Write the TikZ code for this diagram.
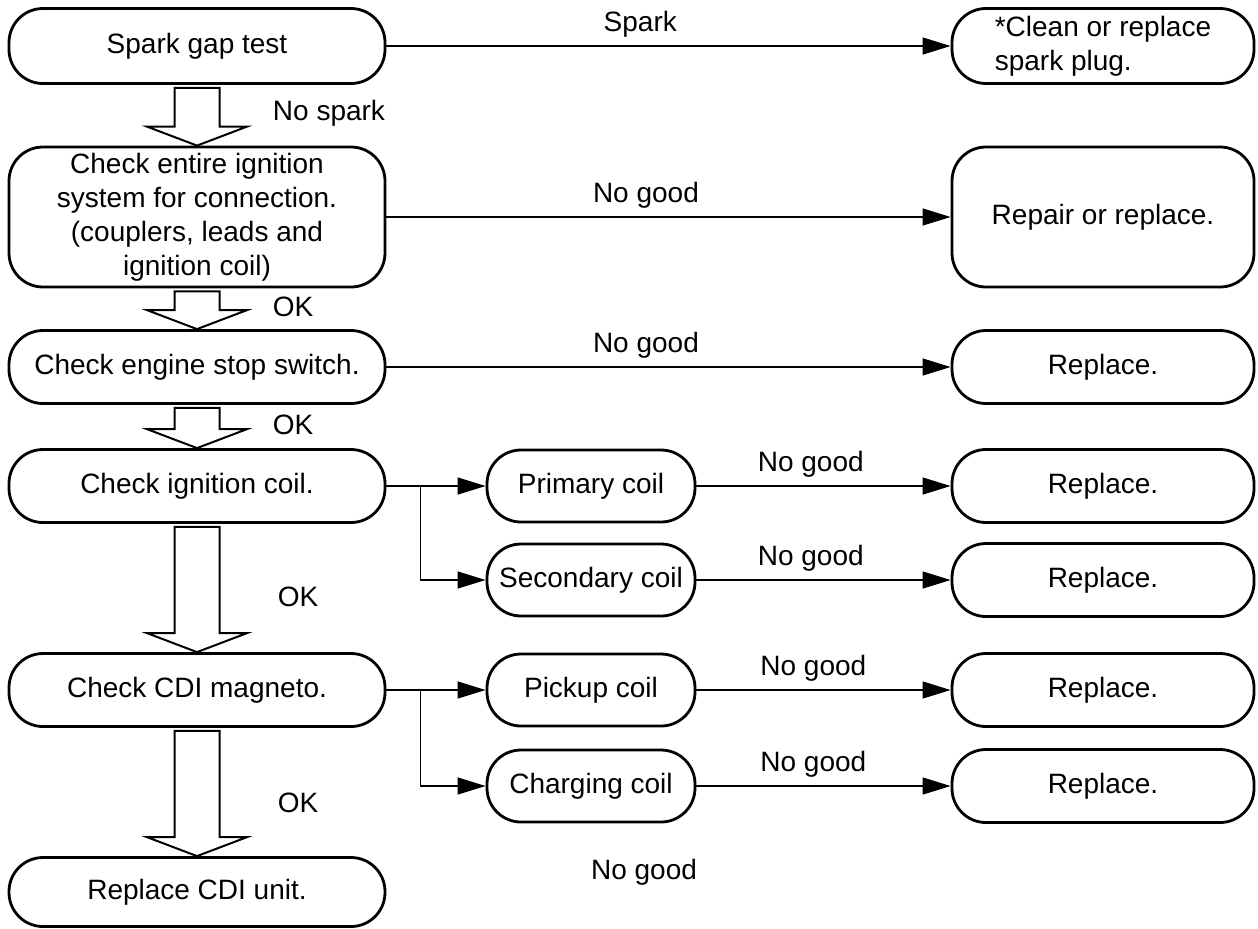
\documentclass[tikz,border=0pt]{standalone}
\usepackage{fontspec}
\setmainfont{Liberation Sans}
\usetikzlibrary{positioning, arrows.meta, calc}

\begin{document}
\begin{tikzpicture}[
    x=0.5pt, y=0.5pt,
    box/.style={
      draw, line width=1.4pt, rounded corners=17pt, align=center,
      font=\fontsize{14}{17}\selectfont, inner sep=2pt
    },
    mainbox/.style={box, minimum width=188pt, minimum height=36.5pt},
    coilbox/.style={box, minimum width=104pt, minimum height=36pt},
    fixbox/.style={box, minimum width=151pt, minimum height=36.5pt},
    arrow/.style={-{Triangle[length=14pt, width=8.5pt]}, line width=0.6pt},
    hollow/.style={draw, line width=1pt, fill=white, line join=miter},
    lbl/.style={font=\fontsize{14}{17}\selectfont, inner sep=2pt}
]

\useasboundingbox[fill=white] (0,0) rectangle (1258,-928);

% Main column
\node[mainbox, minimum height=37.5pt] (b1) at (197,-46) {Spark gap test};
\node[mainbox, minimum height=70pt] (b2) at (197,-217) {Check entire ignition\\system for connection.\\(couplers, leads and\\ignition coil)};
\node[mainbox] (b3) at (197,-367) {Check engine stop switch.};
\node[mainbox] (b4) at (197,-486) {Check ignition coil.};
\node[mainbox] (b5) at (197,-690) {Check CDI magneto.};
\node[mainbox, minimum height=34.5pt] (b6) at (197,-892) {Replace CDI unit.};

% Coil checks
\node[coilbox] (m1) at (591,-486) {Primary coil};
\node[coilbox] (m2) at (591,-580) {Secondary coil};
\node[coilbox] (m3) at (591,-690) {Pickup coil};
\node[coilbox] (m4) at (591,-786) {Charging coil};

% Remedies
\node[fixbox, align=left, minimum height=37.5pt] (r1) at (1103,-46) {*Clean or replace\\spark plug.};
\node[fixbox, minimum height=70pt] (r2) at (1103,-217) {Repair or replace.};
\node[fixbox] (r3) at (1103,-367) {Replace.};
\node[fixbox] (r4) at (1103,-486) {Replace.};
\node[fixbox] (r5) at (1103,-580) {Replace.};
\node[fixbox] (r6) at (1103,-690) {Replace.};
\node[fixbox] (r7) at (1103,-786) {Replace.};

% Hollow arrows down the main column
\foreach \a/\b in {b1/b2, b2/b3, b3/b4, b4/b5, b5/b6}
  \draw[hollow] ($(\a.south)+(-22.5,-3)$) -- ($(\b.north)+(-22.5,19)$)
    -- ++(-27.5,0) -- (\b.north) -- ++(50,19) -- ++(-27.5,0)
    -- ($(\a.south)+(22.5,-3)$) -- cycle;

\node[lbl] (nospark) at (329,-113) {No spark};
\node[lbl] (ok1) at (293,-307) {OK};
\node[lbl] (ok2) at (293,-425) {OK};
\node[lbl] (ok3) at (298,-597) {OK};
\node[lbl] (ok4) at (298,-803) {OK};

% Arrows
\draw[arrow] (b1) -- node[lbl, above=2pt, pos=0.45] {Spark} (r1);
\draw[arrow] (b2) -- node[lbl, above=2pt, pos=0.46] {No good} (r2);
\draw[arrow] (b3) -- node[lbl, above=2pt, pos=0.46] {No good} (r3);

\coordinate (j4) at ($(b4.east)+(34,0)$);
\coordinate (j5) at ($(b5.east)+(34,0)$);
\draw[arrow] (b4) -- (m1);
\draw[arrow] (j4) |- (m2);
\draw[arrow] (b5) -- (m3);
\draw[arrow] (j5) |- (m4);

\draw[arrow] (m1) -- node[lbl, above=2pt, pos=0.45] {No good} (r4);
\draw[arrow] (m2) -- node[lbl, above=2pt, pos=0.45] {No good} (r5);
\draw[arrow] (m3) -- node[lbl, above=2pt, pos=0.46] {No good} (r6);
\draw[arrow] (m4) -- node[lbl, above=2pt, pos=0.46] {No good} (r7);

\node[lbl] (nogood) at (644,-872) {No good};

\end{tikzpicture}
\end{document}
